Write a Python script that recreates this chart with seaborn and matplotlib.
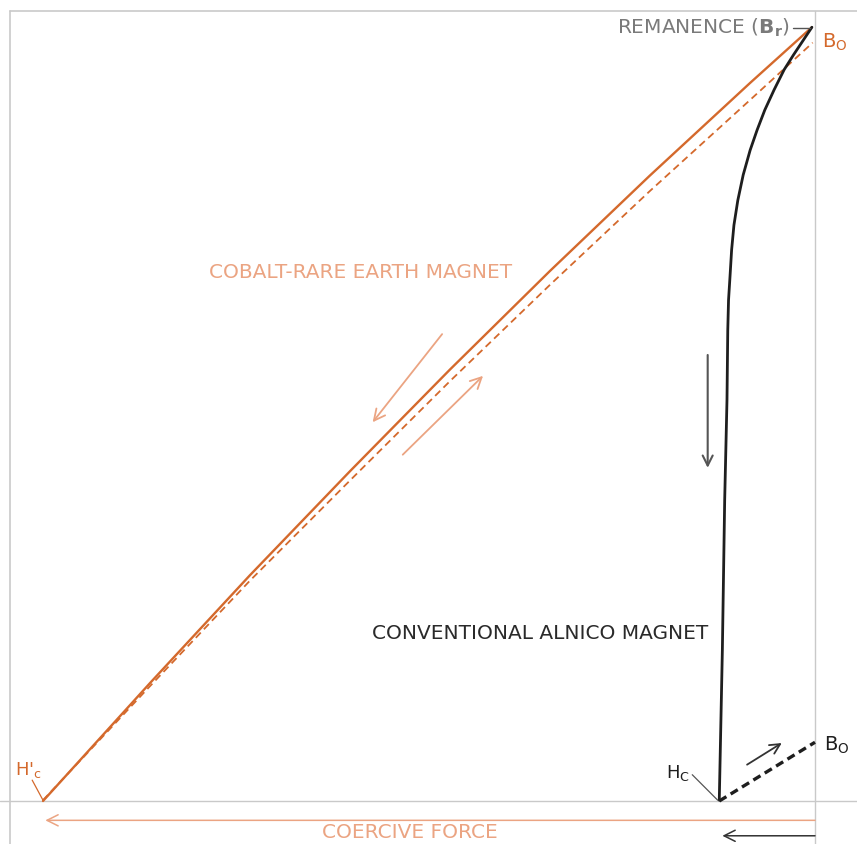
import numpy as np
import pandas as pd
import matplotlib
matplotlib.use('Agg')
import matplotlib.pyplot as plt
import seaborn as sns

# demagnetization curves (H in kOe, B in kG)
rare_earth_H = [-10.0, -8.61, -7.32, -6.02, -4.73, -3.43, -2.14, -0.84, -0.04]
rare_earth_B = [0.0, 1.53, 2.92, 4.27, 5.58, 6.86, 8.09, 9.29, 10.01]
rare_earth_recoil_H = [-10.0, -8.61, -7.32, -6.02, -4.73, -3.43, -2.14, -0.84, -0.03]
rare_earth_recoil_B = [0.01, 1.49, 2.85, 4.15, 5.43, 6.68, 7.89, 9.07, 9.81]

alnico_H = [-0.04, -0.16, -0.28, -0.40, -0.53, -0.65, -0.75, -0.84, -0.93,
            -1.00, -1.05, -1.08, -1.10, -1.12, -1.13, -1.14, -1.17, -1.20,
            -1.24]
alnico_B = [10.01, 9.83, 9.65, 9.46, 9.20, 8.94, 8.68, 8.42, 8.10,
            7.77, 7.45, 7.13, 6.80, 6.48, 6.09, 5.19, 3.89, 1.95,
            0.01]
alnico_recoil_H = [-1.24, 0.0]
alnico_recoil_B = [0.0, 0.76]

orange = '#d4692c'
light_orange = '#eba482'
dark = '#1e1e1e'
grid_gray = '#c9c9c9'

sns.set_style('white')
plt.rcParams['font.family'] = ['DejaVu Sans']

fig = plt.figure(figsize=(8.57, 8.44), dpi=100)
ax = fig.add_axes([0, 0, 1, 1])
ax.set_xlim(-815 / 77.2, 42 / 77.2)
ax.set_ylim(-43 / 77.3, 801 / 77.3)
ax.axis('off')

# frame and axes
ax.axhline(0, color=grid_gray, lw=1)
ax.axhline(10.22, xmin=0.012, color=grid_gray, lw=1.2)
ax.axvline(-10.43, ymax=0.987, color=grid_gray, lw=1.2)
ax.axvline(0, ymax=0.987, color=grid_gray, lw=1)

re = pd.DataFrame({'H': rare_earth_H, 'B': rare_earth_B})
re_r = pd.DataFrame({'H': rare_earth_recoil_H, 'B': rare_earth_recoil_B})
al = pd.DataFrame({'H': alnico_H, 'B': alnico_B})
al_r = pd.DataFrame({'H': alnico_recoil_H, 'B': alnico_recoil_B})

sns.lineplot(data=re_r, x='H', y='B', ax=ax, color=orange, lw=1.3,
             linestyle=(0, (4, 2.5)), sort=False, estimator=None)
sns.lineplot(data=re, x='H', y='B', ax=ax, color=orange, lw=1.7,
             sort=False, estimator=None)
sns.lineplot(data=al, x='H', y='B', ax=ax, color=dark, lw=2.0,
             sort=False, estimator=None, solid_joinstyle='round')
sns.lineplot(data=al_r, x='H', y='B', ax=ax, color=dark, lw=2.4,
             linestyle=(0, (2.5, 1.5)), sort=False, estimator=None)

# direction arrows
def arrow(start, end, color, lw=1.2, ms=18):
    ax.annotate('', xy=end, xytext=start,
                arrowprops=dict(arrowstyle='->', color=color, lw=lw,
                                mutation_scale=ms, shrinkA=0, shrinkB=0))

arrow((-4.83, 6.04), (-5.73, 4.90), light_orange, lw=1.3, ms=20)
arrow((-5.34, 4.48), (-4.30, 5.50), light_orange, lw=1.3, ms=20)
arrow((-1.39, 5.77), (-1.39, 4.31), '#555555', lw=1.5)
arrow((-0.88, 0.47), (-0.43, 0.75), '#333333', lw=1.3)
arrow((0.0, -0.25), (-9.97, -0.25), light_orange, lw=1.1, ms=20)
arrow((0.0, -0.45), (-1.20, -0.45), '#333333', lw=1.1, ms=20)

# labels
fs = 14.5
ax.text(-0.32, 10.0, 'REMANENCE ($\\mathbf{B_r}$)', color='#7a7a7a',
        fontsize=fs, ha='right', va='center')
ax.plot([-0.28, -0.06], [10.0, 10.0], color='#555555', lw=1)
ax.text(0.09, 9.82, 'B$_\\mathregular{O}$', color=orange, fontsize=14,
        ha='left', va='center')
ax.text(0.12, 0.72, 'B$_\\mathregular{O}$', color=dark, fontsize=14,
        ha='left', va='center')
ax.text(-1.62, 0.36, 'H$_\\mathregular{C}$', color=dark, fontsize=13,
        ha='right', va='center')
ax.plot([-1.59, -1.26], [0.34, 0.01], color='#555555', lw=0.9)
ax.text(-10.19, 0.40, "H$'_\\mathregular{c}$", color=orange, fontsize=13,
        ha='center', va='center')
ax.plot([-10.14, -10.0], [0.27, 0.01], color=orange, lw=0.9)

ax.text(-5.89, 6.84, 'COBALT-RARE EARTH MAGNET', color=light_orange,
        fontsize=fs, ha='center', va='center')
ax.text(-3.56, 2.17, 'CONVENTIONAL ALNICO MAGNET', color='#2a2a2a',
        fontsize=fs, ha='center', va='center')
ax.text(-5.25, -0.41, 'COERCIVE FORCE', color=light_orange,
        fontsize=fs, ha='center', va='center')

fig.savefig('out.png', dpi=100)
